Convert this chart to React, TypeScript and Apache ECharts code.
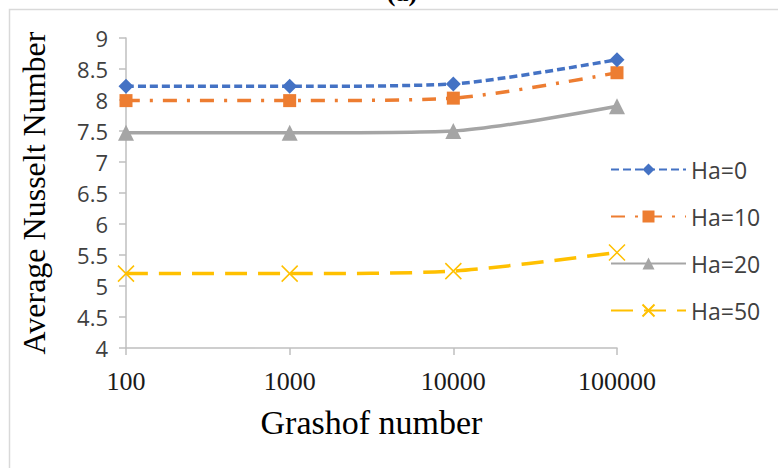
import React, { useEffect, useRef } from "react";
import * as echarts from "echarts";

const grashof = [100, 1000, 10000, 100000];
const yTicks = [4, 4.5, 5, 5.5, 6, 6.5, 7, 7.5, 8, 8.5, 9];
const seriesNames = ["Ha=0", "Ha=10", "Ha=20", "Ha=50"];
const ha0 = [8.22, 8.22, 8.26, 8.65];
const ha10 = [7.99, 7.99, 8.03, 8.44];
const ha20 = [7.47, 7.47, 7.5, 7.9];
const ha50 = [5.2, 5.2, 5.24, 5.54];

const pairs = (vals: number[]) => grashof.map((g, i) => [g, vals[i]]);

export default function App() {
  const ref = useRef<HTMLDivElement>(null);
  useEffect(() => {
    if (!ref.current) return;
    const chart = echarts.init(ref.current, null, { renderer: "svg" });
    const axisColor = "#bfbfbf";
    chart.setOption({
      animation: false,
      backgroundColor: "#ffffff",
      grid: { left: 126, right: 161, top: 38, bottom: 120, containLabel: false },
      graphic: [
        {
          type: "rect",
          shape: { x: 9.5, y: 9.5, width: 900, height: 600 },
          style: { fill: "none", stroke: "#d9d9d9", lineWidth: 1.5 },
          silent: true,
        },
        {
          type: "text",
          x: 402,
          y: 5,
          style: {
            text: "(a)",
            font: "bold 26px 'Liberation Serif'",
            fill: "#000",
            align: "center",
            verticalAlign: "bottom",
          },
        },
      ],
      legend: {
        orient: "vertical",
        left: 605,
        top: 153,
        itemWidth: 75,
        itemHeight: 15,
        itemGap: 24,
        data: seriesNames,
        textStyle: { fontFamily: "Open Sans", fontSize: 23, color: "#404040" },
      },
      xAxis: {
        type: "log",
        logBase: 10,
        min: grashof[0],
        max: grashof[grashof.length - 1],
        name: "Grashof number",
        nameLocation: "middle",
        nameGap: 57,
        nameTextStyle: { fontFamily: "Liberation Serif", fontSize: 34, color: "#000" },
        axisLine: { lineStyle: { color: axisColor, width: 1.5 } },
        axisTick: { show: true, inside: false, length: 7, lineStyle: { color: axisColor, width: 1.5 } },
        axisLabel: {
          fontFamily: "Liberation Serif",
          fontSize: 26,
          color: "#1a1a1a",
          margin: 20,
          formatter: (v: number) => String(Math.round(v)),
        },
        splitLine: { show: false },
        minorTick: { show: false },
      },
      yAxis: {
        type: "value",
        min: yTicks[0],
        max: yTicks[yTicks.length - 1],
        interval: 0.5,
        name: "Average Nusselt Number",
        nameLocation: "middle",
        nameRotate: 90,
        nameGap: 76,
        nameTextStyle: { fontFamily: "Liberation Serif", fontSize: 32, color: "#000" },
        axisLine: { show: true, lineStyle: { color: axisColor, width: 1.5 } },
        axisTick: { show: true, inside: false, length: 7, lineStyle: { color: axisColor, width: 1.5 } },
        axisLabel: { fontFamily: "Open Sans", fontSize: 22, color: "#404040", margin: 18 },
        splitLine: { show: false },
      },
      series: [
        {
          name: seriesNames[0],
          type: "line",
          data: pairs(ha0),
          smooth: 0.25,
          symbol: "diamond",
          symbolSize: 15,
          lineStyle: { color: "#4472C4", width: 3.5, type: [8, 4] },
          itemStyle: { color: "#4472C4" },
          z: 5,
        },
        {
          name: seriesNames[1],
          type: "line",
          data: pairs(ha10),
          smooth: 0.25,
          symbol: "rect",
          symbolSize: 13,
          lineStyle: { color: "#ED7D31", width: 3.5, type: [14, 10, 3, 10] },
          itemStyle: { color: "#ED7D31" },
          z: 4,
        },
        {
          name: seriesNames[2],
          type: "line",
          data: pairs(ha20),
          smooth: 0.25,
          symbol: "triangle",
          symbolSize: 16,
          lineStyle: { color: "#A5A5A5", width: 3.5, type: "solid" },
          itemStyle: { color: "#A5A5A5" },
          z: 3,
        },
        {
          name: seriesNames[3],
          type: "line",
          data: pairs(ha50),
          smooth: 0.25,
          symbol: "path://M0,0L10,10M10,0L0,10",
          symbolSize: 16,
          lineStyle: { color: "#FFC000", width: 3.5, type: [22, 11] },
          itemStyle: { color: "#FFC000", borderColor: "#FFC000", borderWidth: 1.5 },
          z: 2,
        },
      ],
    });
    return () => chart.dispose();
  }, []);
  return (
    <div
      ref={ref}
      style={{ position: "fixed", left: 0, top: 0, width: 778, height: 468, background: "#fff" }}
    />
  );
}
